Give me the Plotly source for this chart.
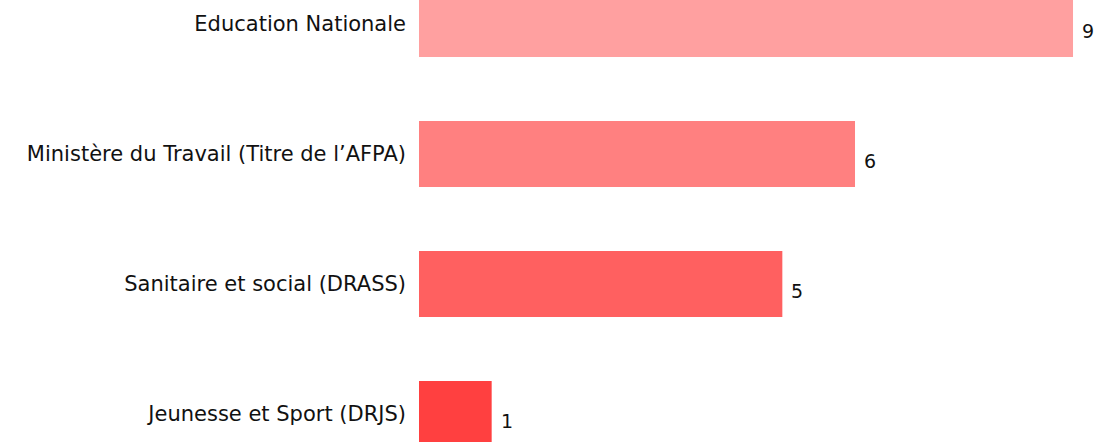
import plotly.graph_objects as go

categories = ["Education Nationale", "Ministère du Travail (Titre de l’AFPA)",
              "Sanitaire et social (DRASS)", "Jeunesse et Sport (DRJS)"]
values = [9, 6, 5, 1]
colors = ["#FFA0A0", "#FF8080", "#FF6060", "#FF4040"]

FONT = "DejaVu Sans"

fig = go.Figure()
fig.add_trace(go.Bar(
    x=values, y=categories, orientation="h",
    marker=dict(color=colors, line=dict(width=0)),
    width=0.508, hoverinfo="skip",
))

for v, c in zip(values, categories):
    fig.add_annotation(x=v, y=c, text=str(v), showarrow=False,
                       xanchor="left", yanchor="middle", xshift=7, yshift=-7,
                       font=dict(family=FONT, size=19, color="#111111"))

fig.update_layout(
    width=1106, height=442,
    margin=dict(l=419, r=0, t=0, b=0),
    plot_bgcolor="white", paper_bgcolor="white",
    showlegend=False,
    font=dict(family=FONT, size=21, color="#111111"),
    xaxis=dict(range=[0, 9.454], showgrid=False, zeroline=False,
               showticklabels=False, showline=False),
    yaxis=dict(type="category", range=[3.215, -0.1846], showgrid=False,
               zeroline=False, showline=False, ticks="",
               ticklabelstandoff=12, automargin=False,
               tickfont=dict(family=FONT, size=21, color="#111111")),
)

fig.write_html("out.html", config={"displayModeBar": False},
               post_script="document.body.style.margin='0';document.body.style.overflow='hidden';")
